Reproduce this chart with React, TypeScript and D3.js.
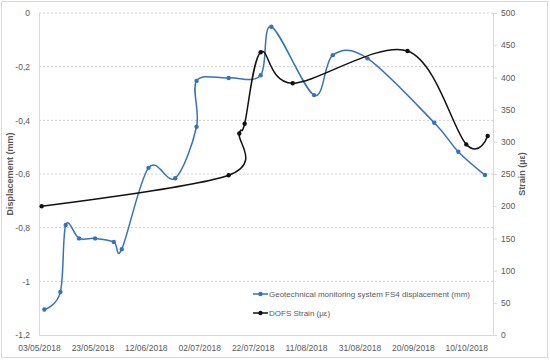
import React, { useRef, useEffect } from "react";
import * as d3 from "d3";

// displacement series (mm), left axis
const dispDates = [
  "05/05/2018", "11/05/2018", "13/05/2018", "18/05/2018", "24/05/2018",
  "31/05/2018", "03/06/2018", "13/06/2018", "23/06/2018", "01/07/2018",
  "01/07/2018", "13/07/2018", "25/07/2018", "29/07/2018", "14/08/2018",
  "21/08/2018", "03/09/2018", "28/09/2018", "07/10/2018", "17/10/2018",
];
const dispValues = [
  -1.105, -1.04, -0.79, -0.84, -0.84, -0.853, -0.88, -0.577, -0.616, -0.424,
  -0.253, -0.242, -0.232, -0.051, -0.306, -0.157, -0.169, -0.409, -0.517, -0.604,
];

// DOFS strain series (µε), right axis
const strainDates = [
  "04/05/2018", "13/07/2018", "17/07/2018", "19/07/2018", "25/07/2018",
  "06/08/2018", "18/09/2018", "10/10/2018", "18/10/2018",
];
const strainValues = [200, 248, 313, 328, 439, 391, 441, 296, 309];

const xTickLabels = [
  "03/05/2018", "23/05/2018", "12/06/2018", "02/07/2018", "22/07/2018",
  "11/08/2018", "31/08/2018", "20/09/2018", "10/10/2018",
];
const xDomainLabels = ["03/05/2018", "20/10/2018"];
const leftTicks = [0, -0.2, -0.4, -0.6, -0.8, -1, -1.2];
const rightTicks = [0, 50, 100, 150, 200, 250, 300, 350, 400, 450, 500];

const seriesNames = [
  "Geotechnical monitoring system FS4 displacement (mm)",
  "DOFS Strain (\u00b5\u03b5)",
];

const parse = d3.timeParse("%d/%m/%Y");

export default function App() {
  const ref = useRef<SVGSVGElement>(null);

  useEffect(() => {
    const svg = d3.select(ref.current);
    svg.selectAll("*").remove();

    const margin = { top: 13, right: 57, bottom: 29, left: 39 };
    const W = 550, H = 364;
    const font = "'Liberation Sans', Arial, sans-serif";
    const textCol = "#595959";

    // chart border
    svg.append("rect")
      .attr("x", 1.5).attr("y", 1.5)
      .attr("width", W - 4).attr("height", 356)
      .attr("fill", "white").attr("stroke", "#d9d9d9");

    const x = d3.scaleTime()
      .domain(xDomainLabels.map((d) => parse(d) as Date))
      .range([margin.left, W - margin.right]);
    const yL = d3.scaleLinear().domain([-1.2, 0]).range([H - margin.bottom - 0, margin.top]);
    const yR = d3.scaleLinear().domain([0, 500]).range([H - margin.bottom - 0, margin.top]);

    const bottom = H - margin.bottom;

    // gridlines
    svg.append("g")
      .selectAll("line")
      .data(leftTicks.filter((t) => t > -1.2))
      .join("line")
      .attr("x1", margin.left).attr("x2", W - margin.right)
      .attr("y1", (d) => yL(d)).attr("y2", (d) => yL(d))
      .attr("stroke", "#d0d0d0").attr("stroke-dasharray", "2,2");

    // x axis
    const fmtComma = (v: number) => (v === 0 ? "0" : String(v).replace(".", ","));
    const gx = svg.append("g")
      .attr("transform", `translate(0,${bottom})`)
      .call(
        d3.axisBottom(x)
          .tickValues(xTickLabels.map((d) => parse(d) as Date))
          .tickFormat(d3.timeFormat("%d/%m/%Y") as any)
          .tickSize(0)
          .tickPadding(10)
      );
    gx.select(".domain").attr("stroke", "#d9d9d9");

    // left axis
    const gl = svg.append("g")
      .attr("transform", `translate(${margin.left},0)`)
      .call(d3.axisLeft(yL).tickValues(leftTicks).tickFormat(fmtComma as any).tickSize(0).tickPadding(9));
    gl.select(".domain").attr("stroke", "#d9d9d9");

    // right axis
    const gr = svg.append("g")
      .attr("transform", `translate(${W - margin.right},0)`)
      .call(d3.axisRight(yR).tickValues(rightTicks).tickSize(4).tickPadding(4));
    gr.select(".domain").attr("stroke", "#d9d9d9");
    gr.selectAll(".tick line").attr("stroke", "#d9d9d9");

    svg.selectAll(".tick text")
      .attr("fill", textCol)
      .style("font-family", font)
      .style("font-size", "8.5px");

    // axis titles
    svg.append("text")
      .attr("transform", `translate(13,${(margin.top + bottom) / 2}) rotate(-90)`)
      .attr("text-anchor", "middle")
      .attr("fill", textCol)
      .style("font-family", font).style("font-size", "9px").style("font-weight", "bold")
      .text("Displacement (mm)");
    svg.append("text")
      .attr("transform", `translate(525,${(margin.top + bottom) / 2}) rotate(-90)`)
      .attr("text-anchor", "middle")
      .attr("fill", textCol)
      .style("font-family", font).style("font-size", "9px").style("font-weight", "bold")
      .text("Strain (\u00b5\u03b5)");

    const blue = "#3572bd";
    const curve = d3.curveCardinal.tension(0);

    const dispData = dispDates.map((d, i) => ({ date: parse(d) as Date, v: dispValues[i] }));
    const strainData = strainDates.map((d, i) => ({ date: parse(d) as Date, v: strainValues[i] }));

    const lineL = d3.line<{ date: Date; v: number }>()
      .x((d) => x(d.date)).y((d) => yL(d.v)).curve(curve);
    const lineR = d3.line<{ date: Date; v: number }>()
      .x((d) => x(d.date)).y((d) => yR(d.v)).curve(curve);

    svg.append("path").datum(dispData)
      .attr("d", lineL).attr("fill", "none").attr("stroke", blue).attr("stroke-width", 1.5);
    svg.append("g").selectAll("circle").data(dispData).join("circle")
      .attr("cx", (d) => x(d.date)).attr("cy", (d) => yL(d.v))
      .attr("r", 2.2).attr("fill", blue);

    svg.append("path").datum(strainData)
      .attr("d", lineR).attr("fill", "none").attr("stroke", "#111").attr("stroke-width", 1.5);
    svg.append("g").selectAll("circle").data(strainData).join("circle")
      .attr("cx", (d) => x(d.date)).attr("cy", (d) => yR(d.v))
      .attr("r", 2.2).attr("fill", "#111");

    // legend
    const legend = svg.append("g").attr("transform", "translate(253,294)");
    [blue, "#111"].forEach((c, i) => {
      const g = legend.append("g").attr("transform", `translate(0,${i * 19})`);
      g.append("line").attr("x1", 0).attr("x2", 15).attr("stroke", c).attr("stroke-width", 1.5);
      g.append("circle").attr("cx", 7.5).attr("r", 2.2).attr("fill", c);
      g.append("text").attr("x", 16).attr("y", 3)
        .attr("fill", textCol)
        .style("font-family", font).style("font-size", "8px")
        .text(seriesNames[i]);
    });
  }, []);

  return (
    <svg
      ref={ref}
      width={550}
      height={364}
      style={{ position: "absolute", left: 0, top: 0, background: "white" }}
    />
  );
}
